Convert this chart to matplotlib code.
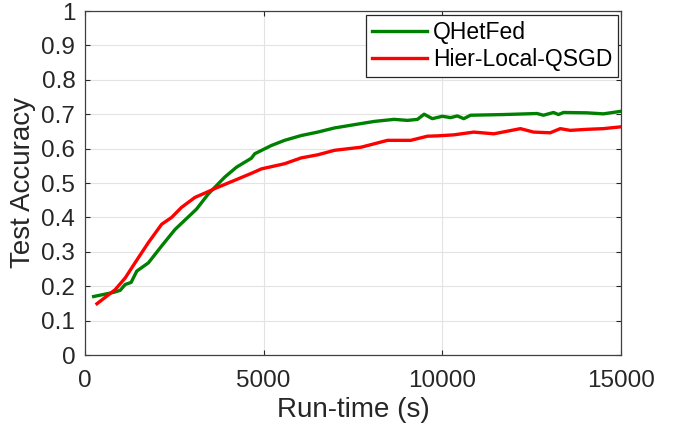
import matplotlib
matplotlib.use("Agg")
import matplotlib.pyplot as plt
from matplotlib.ticker import FuncFormatter

plt.rcParams['font.family'] = ['Liberation Sans', 'DejaVu Sans']

green_x = [242, 800, 985, 1125, 1290, 1450, 1775, 2145, 2520, 3120, 3450, 3910, 4240, 4655,
           4750, 5215, 5585, 6050, 6515, 6980, 7445, 8095, 8650, 9025, 9305, 9490, 9720,
           10000, 10230, 10420, 10600, 10790, 11720, 12650, 12830, 13110, 13250, 13390,
           14040, 14505, 14970]
green_y = [0.170, 0.182, 0.188, 0.205, 0.211, 0.244, 0.268, 0.317, 0.365, 0.424, 0.468, 0.517,
           0.546, 0.572, 0.585, 0.609, 0.624, 0.638, 0.648, 0.660, 0.668, 0.679, 0.685, 0.682,
           0.685, 0.700, 0.687, 0.694, 0.690, 0.695, 0.687, 0.697, 0.699, 0.702, 0.697, 0.705,
           0.699, 0.705, 0.704, 0.701, 0.708]

red_x = [335, 845, 1125, 1400, 1775, 2145, 2425, 2700, 3075, 3450, 3635, 4100, 4655, 4935,
         5585, 6050, 6515, 6980, 7725, 8095, 8465, 9115, 9580, 9860, 10325, 10880, 11440,
         12185, 12555, 13020, 13300, 13580, 14040, 14505, 14970]
red_y = [0.149, 0.190, 0.224, 0.268, 0.327, 0.380, 0.400, 0.429, 0.458, 0.475, 0.484, 0.504,
         0.528, 0.541, 0.556, 0.573, 0.582, 0.595, 0.604, 0.614, 0.624, 0.624, 0.636, 0.637,
         0.640, 0.648, 0.643, 0.658, 0.648, 0.646, 0.658, 0.653, 0.656, 0.658, 0.663]

x_ticks = [0, 5000, 10000, 15000]
y_ticks = [0, 0.1, 0.2, 0.3, 0.4, 0.5, 0.6, 0.7, 0.8, 0.9, 1.0]

fig = plt.figure(figsize=(6.92, 4.23), dpi=100)
ax = fig.add_axes([85 / 692, 68 / 423, 536 / 692, 344 / 423])

ax.plot(green_x, green_y, color='#008000', lw=2.4, label='QHetFed')
ax.plot(red_x, red_y, color='#FF0000', lw=2.4, label='Hier-Local-QSGD')

ax.set_xlim(0, 15000)
ax.set_ylim(0, 1)
ax.set_xticks(x_ticks)
ax.set_yticks(y_ticks)
ax.yaxis.set_major_formatter(FuncFormatter(lambda v, p: ('%g' % round(v, 2))))
ax.grid(True, color='#e3e3e3', lw=0.8)
ax.set_axisbelow(True)
ax.tick_params(direction='in', length=3.6, width=0.8, labelsize=17.5, colors='#262626',
               top=True, right=True, labelcolor='#262626')
ax.tick_params(axis='x', pad=11)
ax.tick_params(axis='y', pad=7)
for s in ax.spines.values():
    s.set_color('#404040')
    s.set_linewidth(0.9)

ax.set_xlabel('Run-time (s)', fontsize=20, color='#262626', labelpad=3.5)
ax.set_ylabel('Test Accuracy', fontsize=20, color='#262626', labelpad=4)

leg = ax.legend(loc='upper right', bbox_to_anchor=((618 - 85) / 536, (355 - 15) / 344),
                fontsize=16.5, fancybox=False, framealpha=1,
                edgecolor='#262626', handlelength=2.4, borderpad=0.25, labelspacing=0.2,
                handletextpad=0.25, borderaxespad=0.0)
leg.get_frame().set_linewidth(0.9)

fig.savefig('out.png', dpi=100)
